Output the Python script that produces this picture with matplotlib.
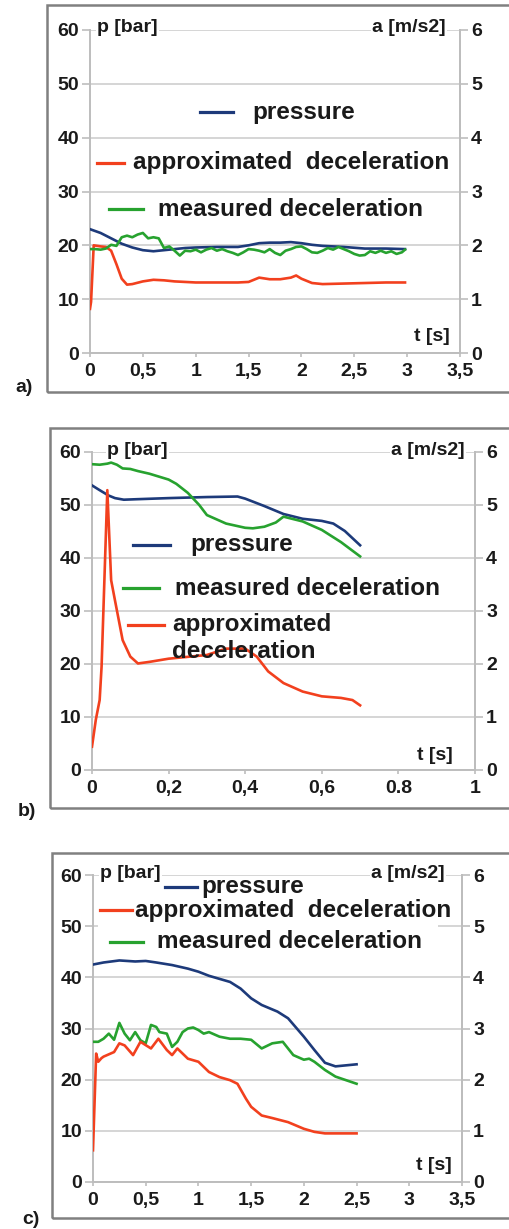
import matplotlib
matplotlib.use("Agg")
import matplotlib.pyplot as plt
from matplotlib.patches import Rectangle
from matplotlib.lines import Line2D

W, H, DPI = 510, 1229, 100
plt.rcParams['font.family'] = ['Liberation Sans', 'DejaVu Sans']

BLUE = '#1d3a7a'
RED = '#f2401e'
GREEN = '#27a22f'
GRID = '#d2d2d2'
SPINE = '#bdbdbd'

# ---------------- panel a ----------------
t_a_p = [0, 0.1, 0.2, 0.3, 0.4, 0.5, 0.6, 0.7, 0.8, 0.9, 1.0, 1.2, 1.4, 1.5, 1.6, 1.7,
         1.8, 1.9, 2.0, 2.1, 2.2, 2.4, 2.6, 2.8, 2.98]
p_a = [23.0, 22.3, 21.3, 20.3, 19.6, 19.1, 18.9, 19.1, 19.3, 19.5, 19.6, 19.7, 19.7, 20.0,
       20.4, 20.5, 20.5, 20.6, 20.4, 20.1, 19.9, 19.7, 19.4, 19.4, 19.3]

t_a_ap = [0, 0.01, 0.035, 0.1, 0.15, 0.2, 0.25, 0.3, 0.35, 0.4, 0.5, 0.6, 0.7, 0.8, 1.0,
          1.2, 1.4, 1.5, 1.55, 1.6, 1.7, 1.8, 1.9, 1.95, 2.0, 2.1, 2.2, 2.4, 2.6, 2.8, 2.98]
a_a_ap = [0.82, 0.95, 2.0, 1.98, 1.97, 1.90, 1.65, 1.38, 1.27, 1.28, 1.33, 1.36, 1.35, 1.33,
          1.31, 1.31, 1.31, 1.32, 1.36, 1.40, 1.37, 1.37, 1.40, 1.44, 1.38, 1.30, 1.28, 1.29,
          1.30, 1.31, 1.31]

t_a_me = [0, 0.05, 0.1, 0.15, 0.2, 0.25, 0.3, 0.35, 0.4, 0.45, 0.5, 0.55, 0.6, 0.65, 0.7,
          0.75, 0.8, 0.85, 0.9, 0.95, 1.0, 1.05, 1.1, 1.15, 1.2, 1.25, 1.3, 1.35, 1.4, 1.45,
          1.5, 1.55, 1.6, 1.65, 1.7, 1.75, 1.8, 1.85, 1.9, 1.95, 2.0, 2.05, 2.1, 2.15, 2.2,
          2.25, 2.3, 2.35, 2.4, 2.45, 2.5, 2.55, 2.6, 2.65, 2.7, 2.75, 2.8, 2.85, 2.9, 2.95, 2.98]
a_a_me = [1.93, 1.93, 1.92, 1.94, 2.01, 1.99, 2.15, 2.18, 2.15, 2.20, 2.23, 2.13, 2.15, 2.13,
          1.95, 1.98, 1.90, 1.81, 1.90, 1.89, 1.92, 1.87, 1.92, 1.95, 1.90, 1.93, 1.89, 1.86,
          1.82, 1.87, 1.93, 1.92, 1.90, 1.87, 1.93, 1.86, 1.82, 1.90, 1.93, 1.97, 1.98, 1.93,
          1.87, 1.86, 1.90, 1.95, 1.92, 1.97, 1.93, 1.89, 1.84, 1.81, 1.82, 1.89, 1.86, 1.90,
          1.86, 1.89, 1.84, 1.87, 1.92]

# ---------------- panel b ----------------
t_b_p = [0, 0.02, 0.043, 0.06, 0.083, 0.12, 0.2, 0.3, 0.38, 0.4, 0.45, 0.5, 0.55, 0.6,
         0.63, 0.66, 0.7]
p_b = [53.7, 52.8, 51.8, 51.3, 51.0, 51.1, 51.3, 51.5, 51.6, 51.2, 49.8, 48.3, 47.4, 47.0,
       46.5, 45.1, 42.4]

t_b_me = [0, 0.02, 0.04, 0.05, 0.065, 0.08, 0.1, 0.12, 0.15, 0.2, 0.22, 0.25, 0.28, 0.3,
          0.35, 0.4, 0.42, 0.45, 0.48, 0.5, 0.55, 0.6, 0.65, 0.7]
a_b_me = [5.77, 5.76, 5.78, 5.80, 5.76, 5.69, 5.68, 5.64, 5.59, 5.48, 5.40, 5.23, 5.00, 4.81,
          4.65, 4.57, 4.56, 4.59, 4.67, 4.78, 4.69, 4.53, 4.30, 4.03]

t_b_ap = [0, 0.01, 0.02, 0.025, 0.04, 0.05, 0.06, 0.08, 0.1, 0.12, 0.15, 0.2, 0.3, 0.35,
          0.4, 0.43, 0.46, 0.5, 0.55, 0.6, 0.65, 0.68, 0.7]
a_b_ap = [0.44, 0.95, 1.32, 1.95, 5.28, 3.58, 3.20, 2.45, 2.14, 2.01, 2.04, 2.10, 2.17,
          2.29, 2.29, 2.14, 1.86, 1.64, 1.48, 1.39, 1.36, 1.32, 1.22]

# ---------------- panel c ----------------
t_c_p = [0, 0.1, 0.25, 0.4, 0.5, 0.6, 0.75, 0.9, 1.0, 1.1, 1.3, 1.4, 1.5, 1.6, 1.75, 1.85,
         2.0, 2.1, 2.2, 2.3, 2.4, 2.5]
p_c = [42.5, 42.9, 43.3, 43.1, 43.2, 42.9, 42.4, 41.7, 41.1, 40.3, 39.1, 37.8, 35.9, 34.6,
       33.3, 32.0, 28.4, 25.8, 23.3, 22.6, 22.8, 23.0]

t_c_me = [0, 0.05, 0.1, 0.15, 0.2, 0.25, 0.3, 0.35, 0.4, 0.45, 0.5, 0.55, 0.6, 0.63, 0.7,
          0.75, 0.8, 0.85, 0.9, 0.95, 1.0, 1.05, 1.1, 1.2, 1.3, 1.4, 1.5, 1.6, 1.7, 1.8, 1.9,
          2.0, 2.05, 2.1, 2.2, 2.3, 2.4, 2.5]
a_c_me = [2.74, 2.74, 2.80, 2.90, 2.78, 3.11, 2.90, 2.77, 2.93, 2.77, 2.71, 3.07, 3.03,
          2.93, 2.90, 2.64, 2.74, 2.93, 3.00, 3.02, 2.97, 2.90, 2.93, 2.84, 2.80, 2.80, 2.78,
          2.61, 2.71, 2.74, 2.48, 2.39, 2.41, 2.35, 2.19, 2.06, 1.99, 1.92]

t_c_ap = [0, 0.03, 0.05, 0.08, 0.1, 0.2, 0.25, 0.3, 0.38, 0.45, 0.55, 0.62, 0.7, 0.75, 0.8,
          0.9, 1.0, 1.1, 1.2, 1.3, 1.37, 1.45, 1.5, 1.6, 1.7, 1.85, 2.0, 2.1, 2.2, 2.5]
a_c_ap = [0.62, 2.51, 2.35, 2.42, 2.45, 2.54, 2.71, 2.67, 2.48, 2.74, 2.61, 2.80, 2.58,
          2.48, 2.61, 2.41, 2.35, 2.15, 2.05, 1.99, 1.92, 1.63, 1.47, 1.30, 1.25, 1.17, 1.04,
          0.98, 0.95, 0.95]

xt_a = [0, 0.5, 1, 1.5, 2, 2.5, 3, 3.5]
xl_a = ['0', '0,5', '1', '1,5', '2', '2,5', '3', '3,5']
xt_b = [0, 0.2, 0.4, 0.6, 0.8, 1]
xl_b = ['0', '0,2', '0,4', '0,6', '0.8', '1']
yt_p = [0, 10, 20, 30, 40, 50, 60]
yt_a = [0, 1, 2, 3, 4, 5, 6]

fig = plt.figure(figsize=(W / DPI, H / DPI), dpi=DPI)
fig.patch.set_facecolor('white')

TICKFS = 14
LEGFS = 17.5
LABFS = 14


def fx(x):
    return x / W


def fy(y):
    return 1 - y / H


def make_axes(x0, x1, ytop, ybot, xmax, xt, xl):
    ax = fig.add_axes([fx(x0), fy(ybot), fx(x1 - x0), (ybot - ytop) / H])
    ax.set_xlim(0, xmax)
    ax.set_ylim(0, 60)
    ax.set_xticks(xt)
    ax.set_xticklabels(xl)
    ax.set_yticks(yt_p)
    ax.grid(axis='y', color=GRID, lw=1.3)
    ax.set_axisbelow(True)
    ax.spines['top'].set_visible(False)
    for s in ['left', 'bottom', 'right']:
        ax.spines[s].set_color(SPINE)
        ax.spines[s].set_linewidth(1.4)
    ax.tick_params(axis='both', colors=SPINE, labelcolor='#1a1a1a', labelsize=TICKFS,
                   width=1.2)
    ax.tick_params(axis='y', pad=2, length=6)
    ax.tick_params(axis='x', pad=4, length=3)
    for lab in ax.get_xticklabels() + ax.get_yticklabels():
        lab.set_fontweight('bold')
    ax2 = ax.twinx()
    ax2.set_ylim(0, 6)
    ax2.set_yticks(yt_a)
    ax2.spines['top'].set_visible(False)
    ax2.spines['left'].set_visible(False)
    ax2.spines['bottom'].set_visible(False)
    ax2.spines['right'].set_color(SPINE)
    ax2.spines['right'].set_linewidth(1.4)
    ax2.tick_params(axis='y', colors=SPINE, labelcolor='#1a1a1a', labelsize=TICKFS,
                    length=6, width=1.2, pad=2)
    for lab in ax2.get_yticklabels():
        lab.set_fontweight('bold')
    return ax, ax2


def frame(x0, y0, x1, y1):
    fig.patches.append(Rectangle((fx(x0), fy(y1)), fx(x1 - x0), (y1 - y0) / H,
                                 transform=fig.transFigure, fill=False,
                                 edgecolor='#808080', lw=1.8, zorder=0))


def ftext(x, y, s, fs=LABFS, bg=False, ha='left', weight='bold'):
    kw = {}
    if bg:
        kw['bbox'] = dict(facecolor='white', edgecolor='none', pad=1)
    fig.text(fx(x), fy(y), s, fontsize=fs, fontweight=weight, ha=ha, va='center',
             color='#1a1a1a', zorder=10, **kw)


def legline(x0, x1, y, c):
    fig.lines.append(Line2D([fx(x0), fx(x1)], [fy(y), fy(y)], transform=fig.transFigure,
                            color=c, lw=2.3, zorder=10))


LW = 1.9

# ---- panel a ----
frame(47, 5, 530, 392)
ax, ax2 = make_axes(90, 460, 30, 353, 3.5, xt_a, xl_a)
ax.plot(t_a_p, p_a, color=BLUE, lw=LW, zorder=3)
ax2.plot(t_a_ap, a_a_ap, color=RED, lw=LW, zorder=3)
ax2.plot(t_a_me, a_a_me, color=GREEN, lw=LW, zorder=3)
ftext(97, 27, 'p [bar]', bg=True)
ftext(446, 27, 'a [m/s2]', bg=True, ha='right')
ftext(450, 337, 't [s]', ha='right')
legline(200, 233, 112, BLUE)
ftext(252, 112, 'pressure', fs=LEGFS)
legline(97, 124, 163, RED)
ftext(133, 163, 'approximated  deceleration', fs=LEGFS)
legline(109, 143, 209, GREEN)
ftext(158, 209, 'measured deceleration', fs=LEGFS)
ftext(24, 388, 'a)', fs=14, ha='center', weight='bold')

# ---- panel b ----
frame(50, 428, 530, 808)
ax, ax2 = make_axes(92, 475, 452, 770, 1.0, xt_b, xl_b)
ax.plot(t_b_p, p_b, color=BLUE, lw=LW, zorder=3)
ax2.plot(t_b_me, a_b_me, color=GREEN, lw=LW, zorder=3)
ax2.plot(t_b_ap, a_b_ap, color=RED, lw=LW, zorder=3)
ftext(107, 450, 'p [bar]', bg=True)
ftext(465, 450, 'a [m/s2]', bg=True, ha='right')
ftext(453, 755, 't [s]', ha='right')
legline(133, 170, 545, BLUE)
ftext(190, 545, 'pressure', fs=LEGFS)
legline(123, 159, 588, GREEN)
ftext(175, 588, 'measured deceleration', fs=LEGFS)
legline(128, 164, 625, RED)
ftext(172, 625, 'approximated', fs=LEGFS)
ftext(172, 652, 'deceleration', fs=LEGFS)
ftext(27, 811, 'b)', fs=14, ha='center', weight='bold')

# ---- panel c ----
frame(52, 853, 530, 1218)
ax, ax2 = make_axes(93, 462, 875, 1182, 3.5, xt_a, xl_a)
ax.plot(t_c_p, p_c, color=BLUE, lw=LW, zorder=3)
ax2.plot(t_c_me, a_c_me, color=GREEN, lw=LW, zorder=3)
ax2.plot(t_c_ap, a_c_ap, color=RED, lw=LW, zorder=3)
fig.patches.append(Rectangle((fx(98), fy(958)), fx(340), (958 - 880) / H,
                             transform=fig.transFigure, facecolor='white',
                             edgecolor='none', zorder=5))
ftext(100, 873, 'p [bar]', bg=True)
ftext(445, 873, 'a [m/s2]', bg=True, ha='right')
ftext(452, 1165, 't [s]', ha='right')
legline(165, 197, 887, BLUE)
ftext(201, 887, 'pressure', fs=LEGFS)
legline(100, 132, 910, RED)
ftext(135, 910, 'approximated  deceleration', fs=LEGFS)
legline(110, 143, 942, GREEN)
ftext(157, 942, 'measured deceleration', fs=LEGFS)
ftext(31, 1220, 'c)', fs=14, ha='center', weight='bold')

fig.savefig('out.png', dpi=DPI, facecolor='white')
